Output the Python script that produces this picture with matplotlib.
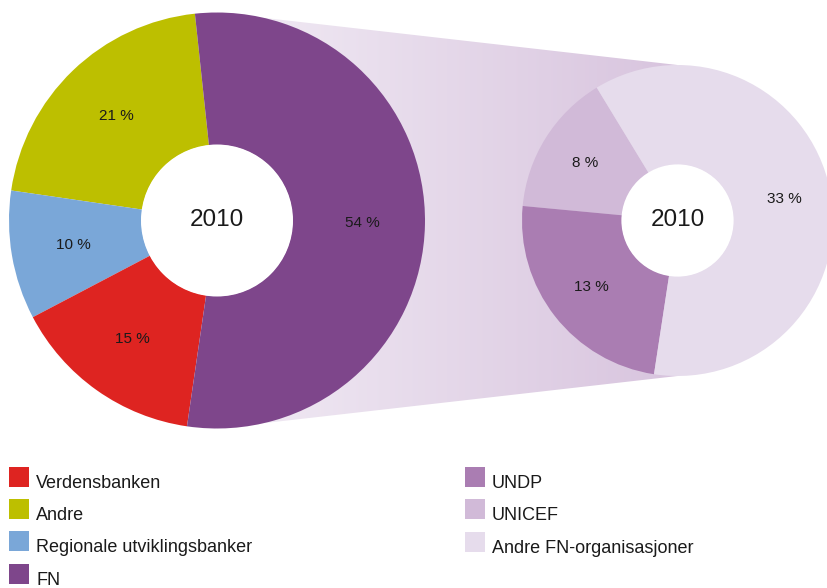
import numpy as np
import matplotlib

matplotlib.use("Agg")
from matplotlib import pyplot as plt
from matplotlib.colors import LinearSegmentedColormap
from matplotlib.patches import Circle, Polygon, Rectangle


# left donut: all multilateral aid, 2010 (legend order)
main_labels = ["Verdensbanken", "Andre", "Regionale utviklingsbanker", "FN"]
main_values = [15, 21, 10, 54]
main_colors = ["#DE2421", "#BDBF00", "#7AA7D8", "#7E468B"]

# right donut: breakdown of FN share
fn_labels = ["UNDP", "UNICEF", "Andre FN-organisasjoner"]
fn_values = [13, 8, 33]
fn_colors = ["#AA7DB2", "#D1BAD8", "#E6DCEC"]

year_label = "2010"

W, H = 827, 588
FONT = ["Liberation Sans", "DejaVu Sans"]
TEXT_COLOR = "#1A1A1A"

plt.rcParams["font.family"] = FONT

fig = plt.figure(figsize=(W / 100, H / 100), dpi=100)
ax = fig.add_axes([0, 0, 1, 1])

left_center = (217.0, H - 220.5)
left_radius, left_hole = 208.0, 75.5
right_center = (677.5, H - 220.5)
right_radius, right_hole = 155.5, 55.6


def draw_donut(labels, values, colors, order, start, center, radius, hole):
    # pie wants the wedges counterclockwise from the start angle
    vals = [values[labels.index(name)] for name in order]
    cols = [colors[labels.index(name)] for name in order]
    total = float(sum(vals))
    ax.pie(
        vals,
        colors=cols,
        startangle=start,
        counterclock=True,
        center=center,
        radius=radius,
        autopct=lambda p: f"{round(p * total / 100):.0f} %",
        pctdistance=0.70,
        wedgeprops=dict(width=radius - hole, linewidth=0, zorder=2),
        textprops=dict(fontsize=11, color=TEXT_COLOR, zorder=4),
        frame=True,
    )
    # the band must not show through the hole
    ax.add_patch(Circle(center, hole + 0.5, facecolor="white", edgecolor="none", zorder=3))
    ax.text(center[0], center[1], year_label, ha="center", va="center",
            fontsize=17.5, color=TEXT_COLOR, zorder=4)


# connecting band with a soft horizontal gradient
band = Polygon(
    [
        (left_center[0], left_center[1] + left_radius),
        (right_center[0], right_center[1] + right_radius),
        (right_center[0], right_center[1] - right_radius),
        (left_center[0], left_center[1] - left_radius),
    ],
    closed=True,
    facecolor="none",
    edgecolor="none",
)
ax.add_patch(band)
band_cmap = LinearSegmentedColormap.from_list("band", ["#F2ECF5", "#D8C4DE"])
img = ax.imshow(
    np.linspace(0, 1, 256).reshape(1, -1),
    cmap=band_cmap,
    extent=(left_center[0], right_center[0], 0, H),
    aspect="auto",
    interpolation="bilinear",
    zorder=0,
)
img.set_clip_path(band)

draw_donut(main_labels, main_values, main_colors,
           ["Andre", "Regionale utviklingsbanker", "Verdensbanken", "FN"],
           96.1, left_center, left_radius, left_hole)
draw_donut(fn_labels, fn_values, fn_colors,
           ["UNICEF", "UNDP", "Andre FN-organisasjoner"],
           121.3, right_center, right_radius, right_hole)


def legend_column(x, top, step, labels, colors):
    for i, (name, col) in enumerate(zip(labels, colors)):
        y_top = H - (top + i * step)
        ax.add_patch(Rectangle((x, y_top - 20), 20, 20, facecolor=col,
                               edgecolor="none"))
        ax.text(x + 27, y_top - 21, name, ha="left", va="baseline",
                fontsize=13, color=TEXT_COLOR)


legend_column(9, 467, 32.2, main_labels, main_colors)
legend_column(465, 467, 32.3, fn_labels, fn_colors)

ax.set_xlim(0, W)
ax.set_ylim(0, H)
ax.set_aspect("equal")
ax.axis("off")

fig.savefig("out.png", dpi=100, facecolor="white")
